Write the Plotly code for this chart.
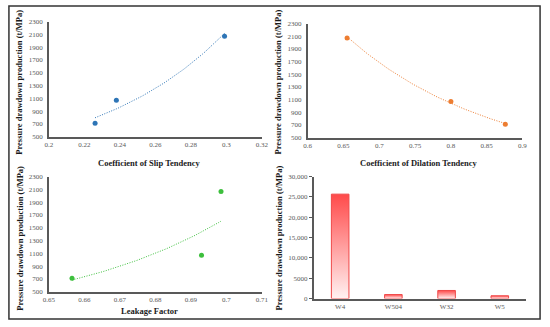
import numpy as np
import plotly.graph_objects as go

# ---- data ----
production = [710, 1070, 2070]
slip_tendency = [0.226, 0.238, 0.299]
dilation_tendency = [0.876, 0.800, 0.655]
leakage_factor = [0.6565, 0.693, 0.6985]

wells = ["W4", "W504", "W32", "W5"]
well_production = [25700, 1000, 2000, 700]

scatter_yticks = [500, 700, 900, 1100, 1300, 1500, 1700, 1900, 2100, 2300]
bar_yticks = [0, 5000, 10000, 15000, 20000, 25000, 30000]
bar_yticktext = ["0", "5000", "10,000", "15,000", "20,000", "25,000", "30,000"]

W, H = 550, 327
def px(x):
    return x / W
def py(y):
    return 1 - y / H

FONT = "Liberation Serif, Times New Roman, serif"
AXC = "#595959"

fig = go.Figure()

def exp_fit(x, y):
    x = np.asarray(x, float); y = np.asarray(y, float)
    b, a = np.polyfit(x, np.log(y), 1)
    xs = np.linspace(x.min(), x.max(), 60)
    return xs, np.exp(a + b * xs)

panels = [
    (slip_tendency, "#2E75B6", "x", "y"),
    (dilation_tendency, "#ED7D31", "x2", "y2"),
    (leakage_factor, "#3DBF3D", "x3", "y3"),
]
for xv, col, xa, ya in panels:
    xs, ys = exp_fit(xv, production)
    fig.add_trace(go.Scatter(x=xs, y=ys, mode="lines", xaxis=xa, yaxis=ya,
                             line=dict(color=col, width=1, dash="1px,1.5px"),
                             showlegend=False, hoverinfo="skip"))
    fig.add_trace(go.Scatter(x=xv, y=production, mode="markers", xaxis=xa, yaxis=ya,
                             marker=dict(color=col, size=5), showlegend=False))

# bars with vertical gradient
bw = 0.33
for i, v in enumerate(well_production):
    fig.add_trace(go.Scatter(
        x=[i - bw / 2, i - bw / 2, i + bw / 2, i + bw / 2, i - bw / 2],
        y=[0, v, v, 0, 0], mode="lines", fill="toself",
        fillgradient=dict(type="vertical",
                          colorscale=[[0, "#FFF2F2"], [1, "#FF4A4A"]]),
        line=dict(color="#F04848", width=1),
        xaxis="x4", yaxis="y4", showlegend=False))

tickfont = dict(family=FONT, size=7, color=AXC)
common = dict(showgrid=False, zeroline=False, showline=True, linecolor=AXC,
              linewidth=1.5, tickfont=tickfont, ticks="")

def sc_y(dom, anchor):
    return dict(common, domain=dom, anchor=anchor, range=[500, 2300],
                tickvals=scatter_yticks, ticklabelstandoff=3)

fig.update_layout(
    width=W, height=H, margin=dict(l=0, r=0, t=0, b=0),
    paper_bgcolor="white", plot_bgcolor="white",
    font=dict(family=FONT),
    xaxis=dict(common, domain=[px(44), px(262)], anchor="y", range=[0.2, 0.32],
               tickvals=[0.2, 0.22, 0.24, 0.26, 0.28, 0.3, 0.32],
               ticktext=["0.2", "0.22", "0.24", "0.26", "0.28", "0.3", "0.32"]),
    yaxis=sc_y([py(136), py(18)], "x"),
    xaxis2=dict(common, domain=[px(309), px(529)], anchor="y2", range=[0.6, 0.9],
                tickvals=[0.6, 0.65, 0.7, 0.75, 0.8, 0.85, 0.9],
                ticktext=["0.6", "0.65", "0.7", "0.75", "0.8", "0.85", "0.9"]),
    yaxis2=sc_y([py(137), py(20)], "x2"),
    xaxis3=dict(common, domain=[px(44), px(262)], anchor="y3", range=[0.65, 0.71],
                tickvals=[0.65, 0.66, 0.67, 0.68, 0.69, 0.7, 0.71],
                ticktext=["0.65", "0.66", "0.67", "0.68", "0.69", "0.7", "0.71"]),
    yaxis3=sc_y([py(295), py(177)], "x3"),
    xaxis4=dict(common, domain=[px(315), px(533)], anchor="y4", range=[-0.5, 3.5],
                tickvals=list(range(len(wells))), ticktext=wells),
    yaxis4=dict(common, domain=[py(302), py(177)], anchor="x4", range=[0, 30000],
                tickvals=bar_yticks, ticktext=bar_yticktext, ticks="outside",
                ticklen=3, tickcolor=AXC, tickwidth=1),
)

titlefont = dict(family=FONT, size=8.5, color="#1a1a1a")
ytitle = "<b>Pressure drawdown production (t/MPa)</b>"
ann = [
    ("<b>Coefficient of Slip Tendency</b>", 147, 163, 0),
    ("<b>Coefficient of Dilation Tendency</b>", 423, 163, 0),
    ("<b>Leakage Factor</b>", 147, 315, 0),
    (ytitle, 13, 80, -90),
    (ytitle, 279, 80, -90),
    (ytitle, 14, 240, -90),
    (ytitle, 280, 240, -90),
]
for t, x, y, ang in ann:
    fig.add_annotation(text=t, x=px(x), y=py(y), xref="paper", yref="paper",
                       showarrow=False, textangle=ang, font=titlefont,
                       xanchor="center", yanchor="middle")

fig.add_shape(type="rect", xref="paper", yref="paper",
              x0=px(3), x1=px(547), y0=py(323), y1=py(2),
              line=dict(color="#333333", width=1.5))

fig.write_html("out.html", config={"displayModeBar": False},
               post_script="document.body.style.margin='0';document.body.style.overflow='hidden';")
